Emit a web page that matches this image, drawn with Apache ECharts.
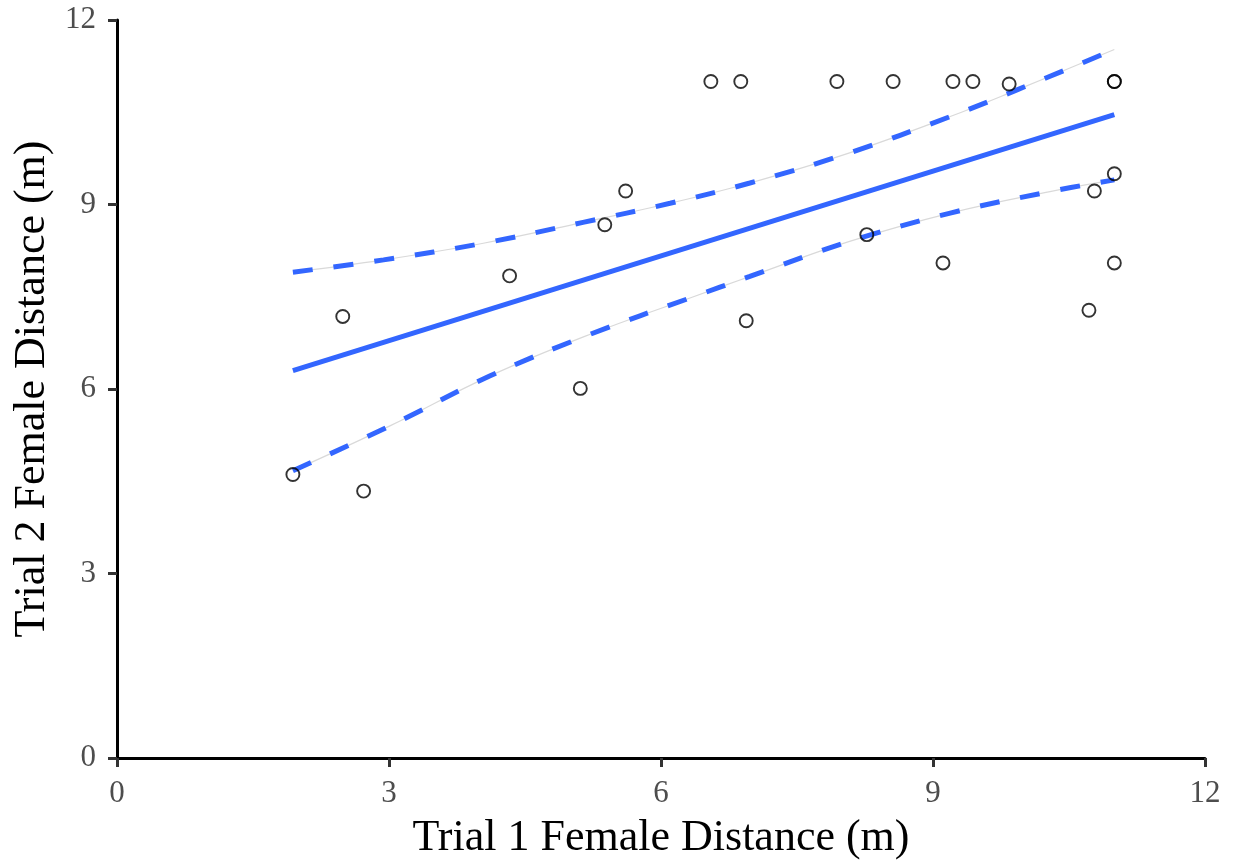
<!DOCTYPE html>
<html>
<head>
<meta charset="utf-8">
<script src="https://cdn.jsdelivr.net/npm/echarts@6/dist/echarts.min.js"></script>
<style>
  html, body { margin: 0; padding: 0; background: #fff; }
  #chart { width: 1236px; height: 865px; }
</style>
</head>
<body>
<div id="chart"></div>
<script>
// Trial 1 vs Trial 2 female distance (m)
const trial1 = [1.94, 2.49, 2.72, 4.33, 5.11, 5.38, 5.61, 6.55, 6.88, 6.94, 7.94, 8.56, 8.27, 9.11, 9.22, 9.44, 9.84, 10.72, 10.78, 11.0, 11.0, 11.0, 11.0];
const trial2 = [4.61, 7.18, 4.34, 7.84, 6.01, 8.67, 9.22, 11.0, 11.0, 7.11, 11.0, 11.0, 8.51, 8.05, 11.0, 11.0, 10.96, 7.28, 9.22, 11.0, 11.0, 9.50, 8.05];

// Linear fit endpoints
const fitX = [1.94, 11.0];
const fitY = [6.30, 10.46];

// Confidence band edges
const upperX = [1.94, 2.94, 4.04, 5.14, 6.10, 6.98, 8.08, 9.19, 9.92, 11.0];
const upperY = [7.90, 8.10, 8.37, 8.71, 9.02, 9.35, 9.84, 10.43, 10.86, 11.52];
const lowerX = [1.94, 3.01, 4.11, 5.22, 6.32, 6.98, 8.08, 9.19, 10.29, 11.0];
const lowerY = [4.67, 5.40, 6.21, 6.89, 7.48, 7.83, 8.40, 8.86, 9.21, 9.40];

const ticks = [0, 3, 6, 9, 12];

const zip = (xs, ys) => xs.map((x, i) => [x, ys[i]]);
const blue = '#3366FF';
const serif = '"Liberation Serif", "DejaVu Serif", serif';

function axis(name, isY) {
  return {
    type: 'value',
    min: ticks[0],
    max: ticks[ticks.length - 1],
    interval: 3,
    name: name,
    nameLocation: 'middle',
    nameGap: isY ? 62 : 58,
    nameTextStyle: { fontFamily: serif, fontSize: 44, color: '#000' },
    axisLine: { show: true, onZero: false, lineStyle: { color: '#000', width: 3 } },
    axisTick: { show: true, length: 9, lineStyle: { color: '#333', width: 3 } },
    axisLabel: { fontFamily: serif, fontSize: 31, color: '#4d4d4d', margin: isY ? 21 : 20 },
    splitLine: { show: false }
  };
}

const chart = echarts.init(document.getElementById('chart'), null, { renderer: 'canvas' });
chart.setOption({
  backgroundColor: '#fff',
  animation: false,
  grid: { left: 117, right: 31, top: 20, bottom: 106, containLabel: false },
  xAxis: axis('Trial 1 Female Distance (m)', false),
  yAxis: axis('Trial 2 Female Distance (m)', true),
  series: [
    {
      type: 'line', data: zip(upperX, upperY), smooth: 0.4, symbol: 'none', z: 2,
      lineStyle: { color: '#d9d9d9', width: 1.2 }
    },
    {
      type: 'line', data: zip(lowerX, lowerY), smooth: 0.4, symbol: 'none', z: 2,
      lineStyle: { color: '#d9d9d9', width: 1.2 }
    },
    {
      type: 'line', data: zip(upperX, upperY), smooth: 0.4, symbol: 'none', z: 3,
      lineStyle: { color: blue, width: 5, type: [20, 21] }
    },
    {
      type: 'line', data: zip(lowerX, lowerY), smooth: 0.4, symbol: 'none', z: 3,
      lineStyle: { color: blue, width: 5, type: [20, 21] }
    },
    {
      type: 'line', data: zip(fitX, fitY), symbol: 'none', z: 3,
      lineStyle: { color: blue, width: 5 }
    },
    {
      type: 'scatter', data: zip(trial1, trial2), symbol: 'circle', symbolSize: 13, z: 4,
      itemStyle: { color: 'rgba(0,0,0,0)', borderColor: '#000', borderWidth: 1.9 }
    }
  ]
});
</script>
</body>
</html>
